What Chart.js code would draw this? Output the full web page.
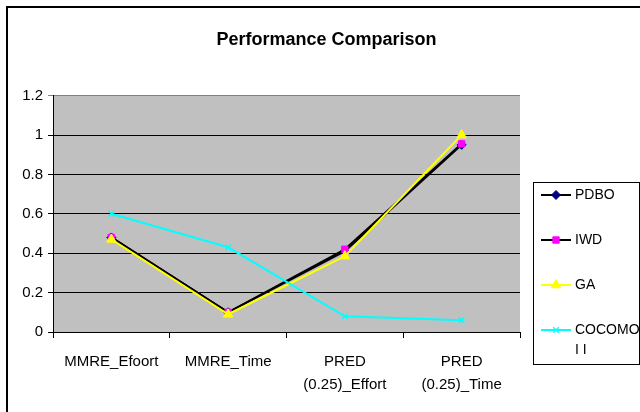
<!DOCTYPE html>
<html>
<head>
<meta charset="utf-8">
<script src="https://cdn.jsdelivr.net/npm/chart.js@4"></script>
<style>
html,body{margin:0;padding:0;background:#fff;}
#wrap{position:relative;width:640px;height:412px;}
</style>
</head>
<body>
<div id="wrap"><canvas id="c" width="640" height="412"></canvas></div>
<script>
// ---- data ----
const categories = [['MMRE_Efoort'], ['MMRE_Time'], ['PRED', '(0.25)_Effort'], ['PRED', '(0.25)_Time']];
const seriesNames = ['PDBO', 'IWD', 'GA', 'COCOMO II'];
const legendText = [['PDBO'], ['IWD'], ['GA'], ['COCOMO', 'I I']];
const pdbo   = [0.48, 0.10, 0.41, 0.95];
const iwd    = [0.48, 0.10, 0.42, 0.955];
const ga     = [0.47, 0.09, 0.385, 1.00];
const cocomo = [0.60, 0.43, 0.08, 0.06];
const yTicks = [0, 0.2, 0.4, 0.6, 0.8, 1, 1.2];
const yTickLabels = ['0', '0.2', '0.4', '0.6', '0.8', '1', '1.2'];

Chart.defaults.font.family = "'Liberation Sans', Arial, sans-serif";
Chart.defaults.color = '#000';

const styles = [
  {line: '#000000', fill: '#000080', stroke: '#000080', shape: 'rectRot', r: 4.5, bw: 1},
  {line: '#000000', fill: '#FF00FF', stroke: '#FF00FF', shape: 'rect', r: 4.5, bw: 1},
  {line: '#FFFF00', fill: '#FFFF00', stroke: '#FFFF00', shape: 'triangle', r: 5.5, bw: 1},
  {line: '#00FFFF', fill: '#00FFFF', stroke: '#00FFFF', shape: 'crossRot', r: 4, bw: 1.5}
];
const values = [pdbo, iwd, ga, cocomo];

function legendIcon(s) {
  const cv = document.createElement('canvas');
  cv.width = 31; cv.height = 14;
  const g = cv.getContext('2d');
  g.strokeStyle = s.line; g.lineWidth = 2;
  g.beginPath(); g.moveTo(0, 7); g.lineTo(30, 7); g.stroke();
  g.fillStyle = s.fill; g.strokeStyle = s.stroke; g.lineWidth = s.bw;
  Chart.helpers.drawPoint(g, {pointStyle: s.shape, radius: s.r, borderWidth: s.bw}, 15, 7);
  return cv;
}

const bgPlugin = {
  id: 'bg',
  beforeDraw(chart) {
    const {ctx, chartArea: a} = chart;
    ctx.save();
    ctx.fillStyle = '#C0C0C0';
    ctx.fillRect(a.left, a.top, a.right - a.left, a.bottom - a.top);
    ctx.restore();
  },
  afterDraw(chart) {
    const ctx = chart.ctx;
    ctx.save();
    ctx.strokeStyle = '#000';
    ctx.lineWidth = 2;
    ctx.strokeRect(7, 7, 660, 440);
    const lg = chart.legend;
    if (lg && lg.legendHitBoxes && lg.legendHitBoxes.length) {
      const hb = lg.legendHitBoxes;
      const top = hb[0].top - 6;
      const last = hb[hb.length - 1];
      const bottom = last.top + last.height + 1;
      ctx.lineWidth = 1;
      ctx.strokeRect(533.5, Math.round(top) + 0.5, 106, Math.round(bottom - top));
    }
    ctx.restore();
  }
};

new Chart(document.getElementById('c'), {
  type: 'line',
  data: {
    labels: categories,
    datasets: seriesNames.map((name, i) => ({
      label: name,
      data: values[i],
      borderColor: styles[i].line,
      borderWidth: 2,
      pointStyle: styles[i].shape,
      pointRadius: styles[i].r,
      pointHoverRadius: styles[i].r,
      pointBackgroundColor: styles[i].fill,
      pointBorderColor: styles[i].stroke,
      pointBorderWidth: styles[i].bw,
      tension: 0,
      fill: false,
      order: 4 - i
    }))
  },
  options: {
    responsive: false,
    animation: false,
    layout: {padding: {left: 13, right: 0, top: 0, bottom: 0}},
    plugins: {
      title: {
        display: true,
        text: 'Performance Comparison',
        font: {size: 18, weight: 'bold'},
        color: '#000',
        padding: {top: 29, bottom: 45}
      },
      legend: {
        display: true,
        position: 'right',
        align: 'center',
        maxWidth: 120,
        title: {display: true, text: '', font: {size: 1, lineHeight: 1}, padding: {top: 138, bottom: 0}},
        labels: {
          padding: 25,
          usePointStyle: true,
          pointStyleWidth: 23,
          color: '#000',
          font: {size: 14, lineHeight: 20 / 14},
          generateLabels(chart) {
            return chart.data.datasets.map((ds, i) => ({
              text: legendText[i],
              pointStyle: legendIcon(styles[i]),
              fillStyle: styles[i].fill,
              strokeStyle: styles[i].stroke,
              lineWidth: 0,
              hidden: !chart.isDatasetVisible(i),
              datasetIndex: i,
              fontColor: '#000'
            }));
          }
        }
      },
      tooltip: {enabled: false}
    },
    scales: {
      x: {
        offset: true,
        grid: {offset: true, drawOnChartArea: false, drawTicks: true, tickLength: 6, color: '#000', lineWidth: 1},
        border: {display: true, color: '#000', width: 1},
        ticks: {font: {size: 15, lineHeight: 23 / 15}, color: '#000', padding: 12, maxRotation: 0, autoSkip: false},
        afterFit(s) { s.height = 80; }
      },
      y: {
        min: 0, max: 1.2,
        afterBuildTicks(s) { s.ticks = yTicks.map(v => ({value: v})); },
        grid: {
          color: (c) => c.tick && c.tick.value === 1.2 ? '#808080' : '#000',
          lineWidth: 1, tickLength: 5, drawTicks: true
        },
        border: {display: true, color: '#000', width: 1},
        ticks: {
          font: {size: 15}, color: '#000', padding: 5,
          callback: (v, idx) => yTickLabels[idx]
        },
        afterFit(s) { s.width = 40; }
      }
    }
  },
  plugins: [bgPlugin]
});
</script>
</body>
</html>
